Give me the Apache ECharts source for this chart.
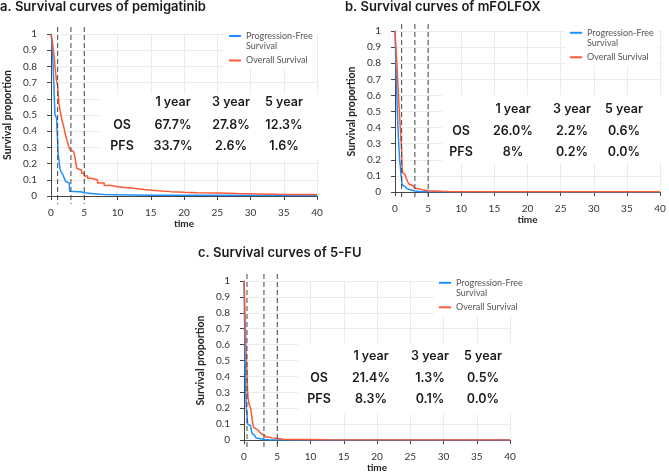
<!DOCTYPE html>
<html><head><meta charset="utf-8">
<script src="https://cdn.jsdelivr.net/npm/echarts@6/dist/echarts.min.js"></script>
<style>html,body{margin:0;padding:0;background:#fff}#c{width:669px;height:474px}</style>
</head><body><div id="c"></div>
<script>
// ---------- DATA ----------
const panelTitles = ['a. Survival curves of pemigatinib', 'b. Survival curves of mFOLFOX', 'c. Survival curves of 5-FU'];
const seriesNames = ['Progression-Free Survival', 'Overall Survival'];
const xTicks = [0, 5, 10, 15, 20, 25, 30, 35, 40];
const yTicks = [0, 0.1, 0.2, 0.3, 0.4, 0.5, 0.6, 0.7, 0.8, 0.9, 1];

// Panel a: pemigatinib
const pfsA = [[0,1],[0.1,0.97],[0.2,0.9],[0.3,0.82],[0.4,0.72],[0.5,0.6],[0.6,0.5],[0.85,0.48],[0.9,0.42],[1.0,0.337],[1.05,0.27],[1.2,0.22],[1.35,0.17],[1.5,0.15],[1.8,0.13],[2.0,0.11],[2.2,0.09],[2.4,0.08],[2.75,0.075],[2.8,0.03],[3.0,0.026],[4.0,0.026],[4.5,0.02],[5.0,0.016],[6,0.012],[7,0.009],[8,0.007],[10,0.005],[15,0.004],[20,0.003],[40,0.003]];
const osA = [[0,1],[0.15,0.97],[0.25,0.94],[0.35,0.9],[0.5,0.85],[0.6,0.8],[0.7,0.76],[0.8,0.72],[0.9,0.7],[1.0,0.677],[1.1,0.62],[1.2,0.57],[1.35,0.53],[1.5,0.5],[1.7,0.46],[1.9,0.43],[2.1,0.39],[2.3,0.36],[2.5,0.33],[2.7,0.3],[2.9,0.285],[3.0,0.278],[3.2,0.275],[3.4,0.27],[3.6,0.24],[3.75,0.2],[3.9,0.17],[4.2,0.16],[4.6,0.14],[5.0,0.123],[5.5,0.11],[6,0.1],[7,0.08],[8,0.065],[9,0.057],[10,0.05],[12,0.04],[14,0.033],[16,0.027],[18,0.023],[20,0.02],[22,0.018],[25,0.015],[28,0.013],[31,0.011],[34,0.01],[37,0.009],[40,0.008]];
// Panel b: mFOLFOX
const pfsB = [[0,1],[0.1,0.85],[0.2,0.7],[0.3,0.57],[0.4,0.45],[0.5,0.35],[0.6,0.27],[0.7,0.2],[0.8,0.16],[0.9,0.11],[1.0,0.08],[1.05,0.045],[1.2,0.035],[1.5,0.028],[1.8,0.02],[2.1,0.012],[2.5,0.006],[3.0,0.002],[4,0.001],[5,0],[40,0]];
const osB = [[0,1],[0.1,0.93],[0.2,0.86],[0.3,0.78],[0.4,0.7],[0.5,0.62],[0.6,0.54],[0.7,0.47],[0.8,0.4],[0.9,0.32],[1.0,0.26],[1.05,0.17],[1.15,0.12],[1.3,0.11],[1.5,0.1],[1.7,0.085],[1.9,0.065],[2.1,0.05],[2.4,0.04],[2.7,0.03],[3.0,0.022],[3.5,0.016],[4,0.011],[4.5,0.008],[5,0.006],[6,0.004],[7,0.003],[8,0.002],[10,0.001],[40,0.001]];
// Panel c: 5-FU
const pfsC = [[0,1],[0.05,0.85],[0.1,0.7],[0.15,0.55],[0.2,0.42],[0.25,0.32],[0.3,0.25],[0.35,0.2],[0.45,0.16],[0.5,0.12],[0.55,0.1],[0.7,0.095],[0.85,0.09],[1.0,0.083],[1.1,0.06],[1.25,0.04],[1.4,0.03],[1.6,0.02],[1.8,0.013],[2.1,0.008],[2.5,0.004],[3.0,0.001],[4,0.0005],[5,0],[40,0]];
const osC = [[0,1],[0.05,0.95],[0.1,0.88],[0.15,0.8],[0.2,0.72],[0.25,0.65],[0.3,0.58],[0.35,0.52],[0.4,0.47],[0.45,0.42],[0.5,0.36],[0.55,0.3],[0.6,0.27],[0.7,0.24],[0.8,0.22],[0.9,0.214],[1.0,0.2],[1.1,0.17],[1.2,0.14],[1.3,0.11],[1.45,0.08],[1.6,0.07],[1.8,0.062],[2.0,0.058],[2.2,0.052],[2.5,0.043],[2.8,0.033],[3.0,0.026],[3.3,0.02],[3.7,0.014],[4.2,0.01],[5,0.006],[6,0.004],[7,0.003],[9,0.002],[12,0.001],[40,0.001]];

// Vertical reference (dashed) lines, in years
const refLinesA = [1, 3, 5];
const refLinesB = [1, 3, 5];
const refLinesC = [0.45, 3, 5];

// Tables
const tableHeaders = ['1 year', '3 year', '5 year'];
const rowLabels = ['OS', 'PFS'];
const tabOsA = ['67.7%', '27.8%', '12.3%'];
const tabPfsA = ['33.7%', '2.6%', '1.6%'];
const tabOsB = ['26.0%', '2.2%', '0.6%'];
const tabPfsB = ['8%', '0.2%', '0.0%'];
const tabOsC = ['21.4%', '1.3%', '0.5%'];
const tabPfsC = ['8.3%', '0.1%', '0.0%'];

// ---------- LAYOUT / STYLE ----------
const BLUE = '#1e8fff', RED = '#ff5a36';
const AXF = 'Lato, "Liberation Sans", sans-serif';
const TF = 'Inter, "Noto Sans", sans-serif';
const panels = [
  { grid:{left:51, top:34, width:266, height:162}, pfs:pfsA, os:osA, ref:refLinesA, tOs:tabOsA, tPfs:tabPfsA,
    title:{left:0, top:1}, legend:{left:224, top:17.5},
    box:{x:100, y:94, w:220, h:66}, tab:{lx:122, cx:[173,231,284], ry:[102,125,146]} },
  { grid:{left:395, top:31, width:265, height:161}, pfs:pfsB, os:osB, ref:refLinesB, tOs:tabOsB, tPfs:tabPfsB,
    title:{left:345, top:1}, legend:{left:565, top:14.3},
    box:{x:442, y:95, w:220, h:68}, tab:{lx:461, cx:[513,572,624], ry:[109,131,152]} },
  { grid:{left:244, top:281, width:266, height:161}, pfs:pfsC, os:osC, ref:refLinesC, tOs:tabOsC, tPfs:tabPfsC,
    title:{left:198, top:247}, legend:{left:434, top:264.3},
    box:{x:298, y:343, w:214, h:71}, tab:{lx:319, cx:[371,430,483], ry:[356,378,399]} }
];

const option = { animation:false, backgroundColor:'#fff', title:[], grid:[], xAxis:[], yAxis:[], legend:[], series:[], graphic:[] };

panels.forEach((p, i) => {
  option.title.push({ text: panelTitles[i], left:p.title.left, top:p.title.top, padding:0,
    textStyle:{ fontFamily:TF, fontSize:13, fontWeight:600, color:'#1a1a1a' } });
  option.grid.push(Object.assign({ containLabel:false }, p.grid));
  option.xAxis.push({ gridIndex:i, type:'value', min:xTicks[0], max:xTicks[xTicks.length-1], interval:xTicks[1]-xTicks[0],
    offset:8, name:'time', nameLocation:'middle', nameGap:14,
    nameTextStyle:{ fontFamily:AXF, fontSize:10, fontWeight:'bold', color:'#222' },
    axisLine:{ lineStyle:{ color:'#444', width:1 } }, axisTick:{ length:4, lineStyle:{ color:'#444' } },
    axisLabel:{ fontFamily:AXF, fontSize:10, color:'#333', margin:4 },
    splitLine:{ show:true, lineStyle:{ color:'#ebebeb' } } });
  option.yAxis.push({ gridIndex:i, type:'value', min:yTicks[0], max:yTicks[yTicks.length-1], interval:yTicks[1]-yTicks[0],
    offset:8, name:'Survival proportion', nameLocation:'middle', nameGap:30,
    nameTextStyle:{ fontFamily:AXF, fontSize:10.5, fontWeight:'bold', color:'#222' },
    axisLine:{ show:true, lineStyle:{ color:'#444', width:1 } }, axisTick:{ show:true, length:4, lineStyle:{ color:'#444' } },
    axisLabel:{ fontFamily:AXF, fontSize:10, color:'#333', margin:6, formatter: v => String(Math.round(v*10)/10) },
    splitLine:{ show:true, lineStyle:{ color:'#ebebeb' } } });
  option.legend.push({ orient:'vertical', left:p.legend.left, top:p.legend.top, backgroundColor:'#fff',
    padding:[4,4,4,5], itemWidth:12, itemHeight:2, itemGap:5.5, icon:'rect', data:seriesNames,
    formatter: n => n === seriesNames[0] ? '{e| }\n{t|Progression-Free}\n{t|Survival}' : '{t|' + n + '}',
    textStyle:{ fontFamily:AXF, fontSize:9, color:'#555',
      rich:{ e:{ fontSize:9, lineHeight:10 }, t:{ fontFamily:AXF, fontSize:9, lineHeight:10, color:'#555' } } },
    selectedMode:false });
  option.series.push({ name:seriesNames[0], type:'line', xAxisIndex:i, yAxisIndex:i, data:p.pfs, step:'end',
    showSymbol:false, color:BLUE, lineStyle:{ color:BLUE, width:1.5 }, z:3 });
  option.series.push({ name:seriesNames[1], type:'line', xAxisIndex:i, yAxisIndex:i, data:p.os, step:'end',
    showSymbol:false, color:RED, lineStyle:{ color:RED, width:1.5 }, z:3 });
  option.series.push({ type:'custom', xAxisIndex:i, yAxisIndex:i, data:p.ref.map(t => [t, 0]), z:4, silent:true,
    renderItem:(params, api) => {
      const t = api.value(0);
      const top = api.coord([t, 1]), bot = api.coord([t, 0]);
      return { type:'line', shape:{ x1:top[0], y1:top[1]-7, x2:bot[0], y2:bot[1]+8 },
        style:{ stroke:'#444', lineWidth:1, lineDash:[5,3] } };
    } });
  // white panel behind table
  option.graphic.push({ type:'rect', z:1, silent:true, shape:{ x:p.box.x, y:p.box.y, width:p.box.w, height:p.box.h }, style:{ fill:'#fff' } });
  const ts = { fontFamily:TF, fontSize:12.5, fontWeight:600, fill:'#1a1a1a', align:'center', verticalAlign:'middle' };
  tableHeaders.forEach((h, j) => option.graphic.push({ type:'text', z:2, x:p.tab.cx[j], y:p.tab.ry[0], style:Object.assign({ text:h }, ts) }));
  [p.tOs, p.tPfs].forEach((row, r) => {
    option.graphic.push({ type:'text', z:2, x:p.tab.lx, y:p.tab.ry[r+1], style:Object.assign({ text:rowLabels[r] }, ts) });
    row.forEach((v, j) => option.graphic.push({ type:'text', z:2, x:p.tab.cx[j], y:p.tab.ry[r+1], style:Object.assign({ text:v }, ts) }));
  });
});

const chart = echarts.init(document.getElementById('c'), null, { renderer:'canvas' });
chart.setOption(option);
</script></body></html>
